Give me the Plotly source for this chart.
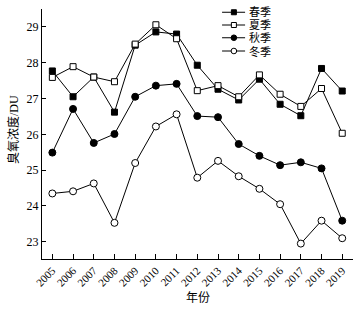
import plotly.graph_objects as go

years = list(range(2005, 2020))
year_labels = [str(y) for y in years]
spring = [27.77, 27.05, 27.60, 26.62, 28.49, 28.86, 28.80, 27.93, 27.26, 26.96, 27.54, 26.84, 26.52, 27.84, 27.21]
summer = [27.59, 27.89, 27.60, 27.47, 28.52, 29.06, 28.67, 27.22, 27.36, 27.05, 27.66, 27.12, 26.78, 27.28, 26.03]
autumn = [25.49, 26.71, 25.76, 26.01, 27.05, 27.36, 27.41, 26.51, 26.48, 25.73, 25.40, 25.14, 25.22, 25.05, 23.59]
winter = [24.35, 24.41, 24.63, 23.53, 25.20, 26.22, 26.56, 24.79, 25.26, 24.83, 24.48, 24.05, 22.95, 23.59, 23.10]
series_names = ["春季", "夏季", "秋季", "冬季"]
y_ticks = [23, 24, 25, 26, 27, 28, 29]

font_fam = "Liberation Serif, Times New Roman, Noto Sans CJK SC, serif"

# (symbol, fill)
styles = [("square", "black"), ("square", "white"), ("circle", "black"), ("circle", "white")]

fig = go.Figure()
for name, vals, (sym, fill) in zip(series_names, [spring, summer, autumn, winter], styles):
    fig.add_trace(go.Scatter(
        x=years, y=vals, name=name, mode="lines+markers",
        line=dict(color="black", width=1),
        marker=dict(symbol=sym, size=6 if sym == "square" else 7, color=fill,
                    line=dict(color="black", width=1)),
        showlegend=False, cliponaxis=False,
    ))

# custom compact legend (paper coordinates of the plot area)
leg_x0, leg_x1, leg_xm, leg_tx = 0.579, 0.653, 0.617, 0.662
leg_ys = [0.987, 0.936, 0.885, 0.832]
shapes = []
annotations = []
for name, (sym, fill), ly in zip(series_names, styles, leg_ys):
    shapes.append(dict(type="line", xref="paper", yref="paper", x0=leg_x0, x1=leg_x1, y0=ly, y1=ly,
                       line=dict(color="black", width=1)))
    half = 2.5 if sym == "square" else 2.8
    shapes.append(dict(type="rect" if sym == "square" else "circle",
                       xref="paper", yref="paper", xsizemode="pixel", ysizemode="pixel",
                       xanchor=leg_xm, yanchor=ly, x0=-half, x1=half, y0=-half, y1=half,
                       fillcolor=fill, line=dict(color="black", width=1)))
    annotations.append(dict(text=name, xref="paper", yref="paper", x=leg_tx, y=ly,
                            xanchor="left", yanchor="middle", showarrow=False, borderpad=0,
                            font=dict(size=11)))

annotations += [
    dict(text="年份", xref="paper", yref="paper", x=0.5, y=-0.156, xanchor="center", yanchor="middle",
         showarrow=False, font=dict(size=12)),
    dict(text="臭氧浓度/DU", xref="paper", yref="paper", x=-0.093, y=0.516, xanchor="center", yanchor="middle",
         textangle=-90, showarrow=False, font=dict(size=12)),
]

fig.update_layout(
    width=362, height=312,
    margin=dict(l=42, r=9, t=9, b=53),
    paper_bgcolor="white", plot_bgcolor="white",
    font=dict(family=font_fam, size=12, color="black"),
    showlegend=False,
    shapes=shapes,
    annotations=annotations,
    xaxis=dict(range=[2004.5, 2019.52], tickmode="array", tickvals=years, ticktext=year_labels,
               tickangle=-45, ticks="inside", ticklen=5, tickcolor="black",
               showline=True, linecolor="black", linewidth=1, mirror=False,
               showgrid=False, zeroline=False, tickfont=dict(size=11), automargin=False),
    yaxis=dict(range=[22.52, 29.5], tickmode="array", tickvals=y_ticks,
               ticks="inside", ticklen=4, tickcolor="black",
               showline=True, linecolor="black", linewidth=1,
               showgrid=False, zeroline=False, tickfont=dict(size=12), automargin=False),
)

fig.write_html("out.html", config={"displayModeBar": False},
               post_script="document.body.style.margin='0';document.body.style.padding='0';")
